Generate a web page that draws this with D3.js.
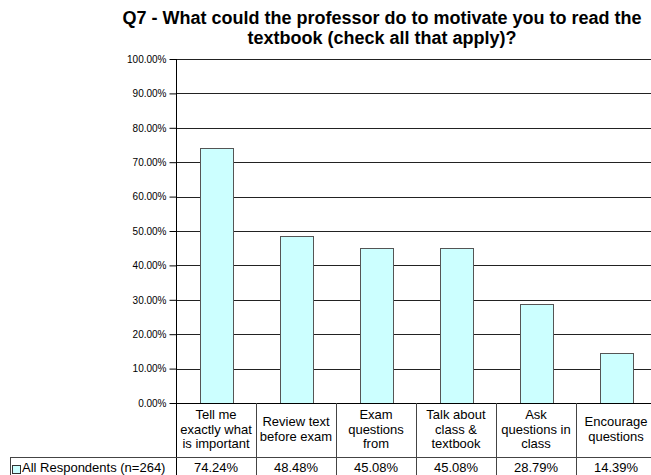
<!DOCTYPE html>
<html><head><meta charset="utf-8">
<script src="https://cdn.jsdelivr.net/npm/d3@7"></script>
<style>body{margin:0;background:#fff;}svg{display:block;font-family:Arial,"Liberation Sans",sans-serif;}</style>
</head><body>
<svg id="c" width="651" height="475"></svg>
<script>
const titleLines = ["Q7 - What could the professor do to motivate you to read the", "textbook (check all that apply)?"];
const categories = [
  ["Tell me","exactly what","is important"],
  ["Review text","before exam"],
  ["Exam","questions","from"],
  ["Talk about","class &","textbook"],
  ["Ask","questions in","class"],
  ["Encourage","questions"]
];
const values = [74.24, 48.48, 45.08, 45.08, 28.79, 14.39];
const seriesName = "All Respondents (n=264)";
const yTicks = [0,10,20,30,40,50,60,70,80,90,100];

const svg = d3.select("#c");
const L = 176, R = 656, T = 59, B = 403;
const x = d3.scaleBand().domain(d3.range(categories.length)).range([L, R]).paddingInner(0.5875).paddingOuter(0.29375);
const y = d3.scaleLinear().domain([0, 100]).range([B, T]);

// title
svg.append("g").selectAll("text").data(titleLines).join("text")
  .attr("x", 382).attr("y", (d,i) => 24 + i*20)
  .attr("text-anchor", "middle").attr("font-weight", "bold").attr("font-size", 18).attr("fill", "#000")
  .text(d => d);

// gridlines
svg.append("g").selectAll("line").data(yTicks.filter(t => t > 0)).join("line")
  .attr("x1", L).attr("x2", 651).attr("y1", d => Math.round(y(d)) + 0.5).attr("y2", d => Math.round(y(d)) + 0.5)
  .attr("stroke", "#222").attr("stroke-width", 1);

// y axis
const yAxis = d3.axisLeft(y).tickValues(yTicks).tickFormat(d => d.toFixed(2) + "%").tickSize(7).tickPadding(3);
const ga = svg.append("g").attr("transform", `translate(${L + 0.5},0)`).call(yAxis);
ga.select(".domain").remove();
ga.selectAll(".tick line").attr("stroke", "#000");
ga.selectAll(".tick text").attr("font-size", 10).attr("fill", "#000").attr("font-family", "Arial, 'Liberation Sans', sans-serif");

// bars
svg.append("g").selectAll("rect").data(values).join("rect")
  .attr("x", (d,i) => Math.round(x(i)) + 0.5).attr("width", Math.round(x.bandwidth()))
  .attr("y", d => Math.round(y(d)) + 0.5).attr("height", d => B - Math.round(y(d)))
  .attr("fill", "#CCFFFF").attr("stroke", "#555").attr("stroke-width", 1);

// axes lines
svg.append("line").attr("x1", L + 0.5).attr("x2", L + 0.5).attr("y1", T).attr("y2", 475).attr("stroke", "#000");
svg.append("line").attr("x1", L).attr("x2", 651).attr("y1", B + 0.5).attr("y2", B + 0.5).attr("stroke", "#000");

// table lines
const tableTop = 457;
svg.append("line").attr("x1", 10).attr("x2", 651).attr("y1", tableTop + 0.5).attr("y2", tableTop + 0.5).attr("stroke", "#444");
svg.append("line").attr("x1", 10.5).attr("x2", 10.5).attr("y1", tableTop).attr("y2", 475).attr("stroke", "#444");
const step = x.step();
svg.append("g").selectAll("line").data(d3.range(1, categories.length + 1)).join("line")
  .attr("x1", i => Math.round(L + i*step) + 0.5).attr("x2", i => Math.round(L + i*step) + 0.5)
  .attr("y1", B).attr("y2", 475).attr("stroke", "#444");

// category labels
const cx = i => x(i) + x.bandwidth()/2;
const lh = 14.5, midY = 429;
const cg = svg.append("g").attr("font-size", 13).attr("fill", "#000").attr("text-anchor", "middle");
categories.forEach((lines, i) => {
  lines.forEach((t, j) => {
    cg.append("text").attr("x", cx(i)).attr("y", midY + (j - (lines.length-1)/2)*lh + 4.6).text(t);
  });
});

// values row
svg.append("g").selectAll("text").data(values).join("text")
  .attr("x", (d,i) => cx(i)).attr("y", 472).attr("text-anchor", "middle").attr("font-size", 13).attr("fill", "#000")
  .text(d => d.toFixed(2) + "%");

// legend
svg.append("rect").attr("x", 12.5).attr("y", 465.5).attr("width", 8).attr("height", 8).attr("fill", "#CCFFFF").attr("stroke", "#333");
svg.append("text").attr("x", 22).attr("y", 472).attr("font-size", 13).attr("fill", "#000").text(seriesName);
</script>
</body></html>
